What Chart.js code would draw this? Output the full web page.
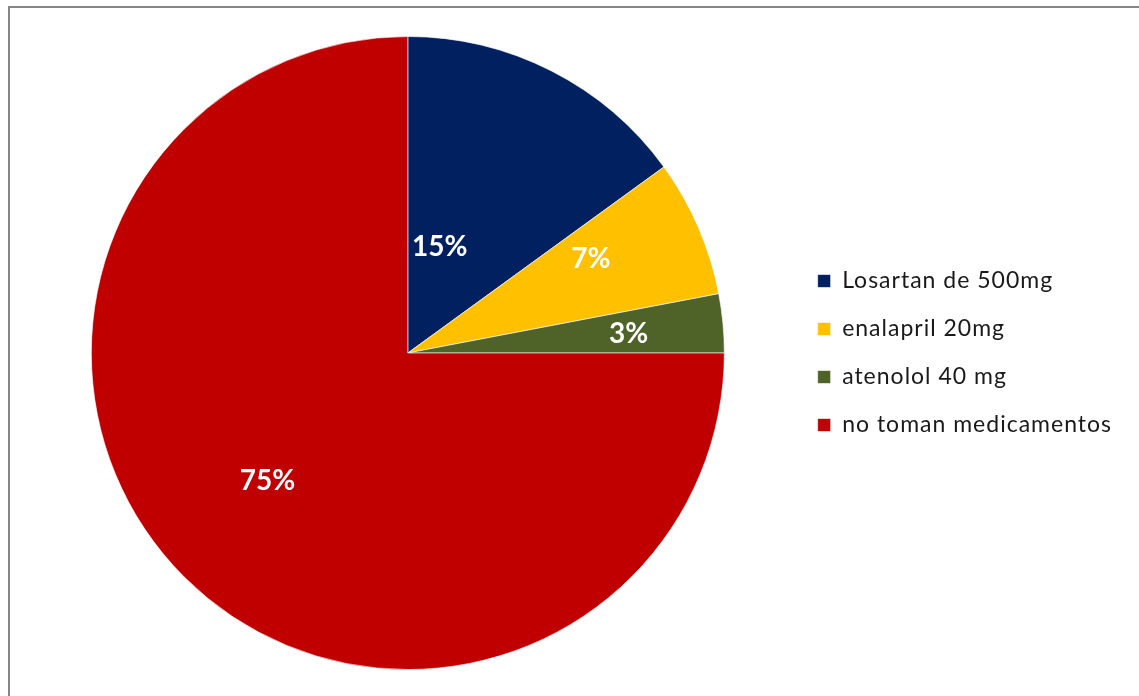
<!DOCTYPE html>
<html>
<head>
<meta charset="utf-8">
<script src="https://cdn.jsdelivr.net/npm/chart.js@4"></script>
<style>
  html, body { margin: 0; padding: 0; background: #fff; overflow: hidden; }
  .frame {
    position: absolute; left: 8px; top: 6px; width: 1200px; height: 760px;
    border-left: 2px solid #858585; border-top: 2px solid #858585;
  }
  .wrap { position: absolute; left: 0; top: 0; width: 1139px; height: 696px; }
</style>
</head>
<body>
<div class="frame"></div>
<div class="wrap"><canvas id="pie"></canvas></div>
<script>
const labels = ["Losartan de 500mg", "enalapril 20mg", "atenolol 40 mg", "no toman medicamentos"];
const values = [15, 7, 3, 75];
const colors = ["#002060", "#FFC000", "#4F6228", "#C00000"];

// where each percentage sits inside its slice: share of the sweep, share of the radius
const labelSpots = [[0.31, 0.35], [0.35, 0.65], [0.55, 0.70], [0.51, 0.60]];

// a little tracking so the legend text reads wider
// (canvas resizes wipe the context state, so set it again before layout and draw)
const spacing = {
  id: "spacing",
  beforeUpdate(chart) { chart.ctx.letterSpacing = "1px"; },
  beforeLayout(chart) { chart.ctx.letterSpacing = "1px"; },
  beforeDraw(chart) { chart.ctx.letterSpacing = "1px"; }
};

const sliceLabels = {
  id: "sliceLabels",
  afterDatasetsDraw(chart) {
    const ctx = chart.ctx;
    const total = values.reduce((a, b) => a + b, 0);
    ctx.save();
    ctx.letterSpacing = "0px";
    ctx.fillStyle = "#fff";
    ctx.font = "bold 28px Lato";
    ctx.textAlign = "center";
    ctx.textBaseline = "middle";
    chart.getDatasetMeta(0).data.forEach((arc, i) => {
      const { x, y, startAngle, endAngle, outerRadius } = arc.getProps(["x", "y", "startAngle", "endAngle", "outerRadius"], true);
      const a = startAngle + (endAngle - startAngle) * labelSpots[i][0];
      const r = outerRadius * labelSpots[i][1];
      const pct = Math.round(values[i] / total * 100) + "%";
      ctx.fillText(pct, x + Math.cos(a) * r, y + Math.sin(a) * r);
    });
    ctx.restore();
    ctx.letterSpacing = "1px";
  }
};

new Chart(document.getElementById("pie"), {
  type: "pie",
  data: {
    labels: labels,
    datasets: [{
      data: values,
      backgroundColor: colors,
      borderColor: "rgba(255,255,255,0.6)",
      borderWidth: 1
    }]
  },
  options: {
    responsive: true,
    maintainAspectRatio: false,
    animation: false,
    layout: { padding: { left: 23, top: 36, bottom: 26, right: 17 } },
    plugins: {
      tooltip: { enabled: false },
      legend: {
        position: "right",
        labels: {
          boxWidth: 13,
          boxHeight: 13,
          padding: 25,
          color: "#1a1a1a",
          font: { family: "Lato", size: 23 }
        }
      }
    }
  },
  plugins: [spacing, sliceLabels]
});
</script>
</body>
</html>
